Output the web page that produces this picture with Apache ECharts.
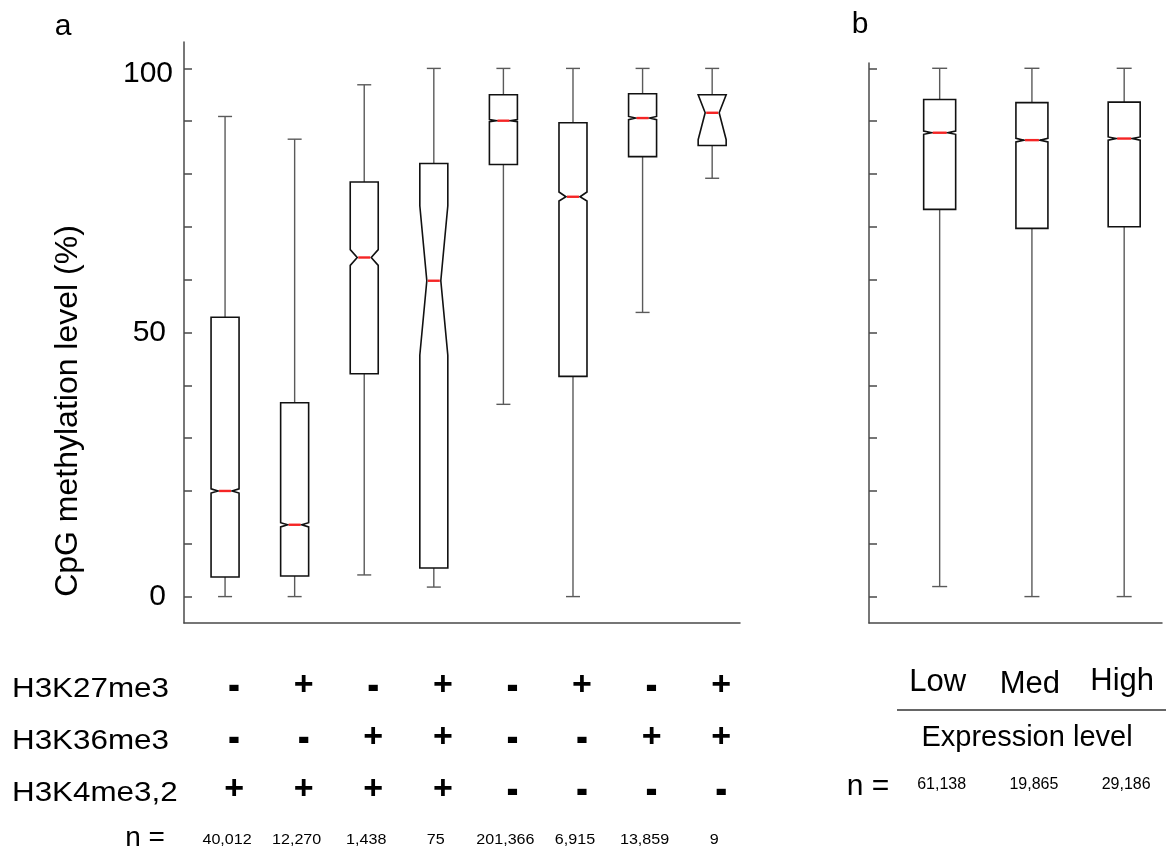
<!DOCTYPE html>
<html>
<head>
    <meta charset="utf-8">
    <title>CpG methylation</title>
    <script src="https://cdn.jsdelivr.net/npm/echarts@6/dist/echarts.min.js"></script>
    <style>body{margin:0;background:#fff}</style>
</head>
<body>
    <div id="main" style="width:1166px;height:852px;"></div>
    <script type="text/javascript">
        // panel a: histone mark combinations
        var marksK27 = ['-', '+', '-', '+', '-', '+', '-', '+'];
        var marksK36 = ['-', '-', '+', '+', '-', '-', '+', '+'];
        var marksK4 = ['+', '+', '+', '+', '-', '-', '-', '-'];
        var countsA = ['40,012', '12,270', '1,438', '75', '201,366', '6,915', '13,859', '9'];
        var lowA = [0, 0, 4.1, 1.8, 36.4, 0, 53.8, 79.2];
        var q1A = [3.7, 3.9, 42.2, 5.4, 81.8, 41.7, 83.3, 85.4];
        var notchLoA = [19.6, 13.2, 62.7, 45.7, 89.9, 74.9, 90.3, 86.5];
        var medA = [20.0, 13.6, 64.2, 59.8, 90.1, 75.7, 90.6, 91.6];
        var notchHiA = [20.4, 14.0, 65.7, 74.0, 90.3, 76.6, 90.9, 95.0];
        var q3A = [52.9, 36.7, 78.5, 82.0, 95.0, 89.7, 95.2, 95.0];
        var highA = [90.9, 86.6, 96.9, 100, 100, 100, 100, 100];

        // panel b: expression level
        var levelsB = ['Low', 'Med', 'High'];
        var countsB = ['61,138', '19,865', '29,186'];
        var lowB = [1.9, 0, 0];
        var q1B = [73.3, 69.7, 70.0];
        var notchLoB = [87.5, 86.05, 86.4];
        var medB = [87.8, 86.4, 86.7];
        var notchHiB = [88.1, 86.75, 87.0];
        var q3B = [94.1, 93.5, 93.6];
        var highB = [100, 100, 100];

        var yTicks = [0, 10, 20, 30, 40, 50, 60, 70, 80, 90, 100];
        var yLabels = [0, 50, 100];

        var FONT = '"Liberation Sans", Arial, sans-serif';

        function rows(lo, q1, nl, md, nh, q3, hi) {
            return lo.map(function (v, i) {
                return [i + 1, lo[i], q1[i], nl[i], md[i], nh[i], q3[i], hi[i]];
            });
        }

        // notched box drawn in pixel space from the axis scales
        function notchedBox(boxW, capW) {
            return function (params, api) {
                var xv = api.value(0);
                function py(k) { return api.coord([xv, api.value(k)])[1]; }
                var cx = api.coord([xv, 0])[0];
                var yLo = py(1), yQ1 = py(2), yNL = py(3), yMd = py(4), yNH = py(5), yQ3 = py(6), yHi = py(7);
                var hw = boxW / 2, nw = boxW / 4, cw = capW / 2;
                var wStyle = { stroke: '#5a5a5a', lineWidth: 1.4 };
                return {
                    type: 'group',
                    children: [
                        { type: 'line', shape: { x1: cx, y1: yQ3, x2: cx, y2: yHi }, style: wStyle },
                        { type: 'line', shape: { x1: cx - cw, y1: yHi, x2: cx + cw, y2: yHi }, style: wStyle },
                        { type: 'line', shape: { x1: cx, y1: yQ1, x2: cx, y2: yLo }, style: wStyle },
                        { type: 'line', shape: { x1: cx - cw, y1: yLo, x2: cx + cw, y2: yLo }, style: wStyle },
                        {
                            type: 'polygon',
                            shape: {
                                points: [
                                    [cx - hw, yQ3], [cx + hw, yQ3], [cx + hw, yNH], [cx + nw, yMd],
                                    [cx + hw, yNL], [cx + hw, yQ1], [cx - hw, yQ1], [cx - hw, yNL],
                                    [cx - nw, yMd], [cx - hw, yNH]
                                ]
                            },
                            style: { fill: '#fff', stroke: '#111', lineWidth: 1.6 }
                        },
                        { type: 'line', shape: { x1: cx - nw + 1, y1: yMd, x2: cx + nw - 1, y2: yMd }, style: { stroke: '#f52525', lineWidth: 2.4 } }
                    ]
                };
            };
        }

        var axisLineStyle = { color: '#4a4a4a', width: 1.5 };

        var myChart = echarts.init(document.getElementById('main'));

        option = {
            animation: false,
            textStyle: { fontFamily: FONT },
            grid: [
                { left: 184, right: 426, top: 42, bottom: 229 },
                { left: 869, right: 4, top: 63, bottom: 229 }
            ],
            xAxis: [
                { gridIndex: 0, type: 'value', min: 0.41, max: 8.4, axisLine: { onZero: false, lineStyle: axisLineStyle }, axisTick: { show: false }, axisLabel: { show: false }, splitLine: { show: false } },
                { gridIndex: 1, type: 'value', min: 0.234, max: 3.41, axisLine: { onZero: false, lineStyle: axisLineStyle }, axisTick: { show: false }, axisLabel: { show: false }, splitLine: { show: false } }
            ],
            yAxis: [
                {
                    gridIndex: 0, type: 'value', min: -5, max: 105,
                    axisLine: { show: true, onZero: false, lineStyle: axisLineStyle },
                    axisTick: { show: true, inside: true, length: 8, customValues: yTicks, lineStyle: { color: '#4a4a4a', width: 1.5 } },
                    axisLabel: {
                        customValues: yLabels, margin: 11, color: '#000', fontSize: 30, fontFamily: FONT,
                        formatter: function (v) { return v === 100 ? '{hi|100}' : '{lo|' + v + '}'; },
                        rich: {
                            hi: { fontSize: 30, fontFamily: FONT, color: '#000', padding: [10, 0, 0, 0] },
                            lo: { fontSize: 30, fontFamily: FONT, color: '#000', padding: [0, 7, 0, 0] }
                        }
                    },
                    splitLine: { show: false }
                },
                {
                    gridIndex: 1, type: 'value', min: -5, max: 101,
                    axisLine: { show: true, onZero: false, lineStyle: axisLineStyle },
                    axisTick: { show: true, inside: true, length: 8, customValues: yTicks, lineStyle: { color: '#4a4a4a', width: 1.5 } },
                    axisLabel: { show: false },
                    splitLine: { show: false }
                }
            ],
            series: [
                {
                    type: 'custom', xAxisIndex: 0, yAxisIndex: 0,
                    renderItem: notchedBox(28, 14),
                    encode: { x: 0, y: [1, 2, 3, 4, 5, 6, 7] },
                    data: rows(lowA, q1A, notchLoA, medA, notchHiA, q3A, highA)
                },
                {
                    type: 'custom', xAxisIndex: 1, yAxisIndex: 1,
                    renderItem: notchedBox(32, 15),
                    encode: { x: 0, y: [1, 2, 3, 4, 5, 6, 7] },
                    data: rows(lowB, q1B, notchLoB, medB, notchHiB, q3B, highB)
                }
            ]
        };
        myChart.setOption(option);

        // annotation table under the panels, x taken from the axes
        var g = [];
        function txt(x, y, s, size, extra) {
            var el = {
                type: 'text', x: x, y: y,
                style: { text: s, fontSize: size, fontFamily: FONT, fill: '#000', textAlign: 'center', textVerticalAlign: 'middle' }
            };
            if (extra) {
                for (var k in extra) {
                    if (k === 'style') { for (var s2 in extra.style) el.style[s2] = extra.style[s2]; }
                    else el[k] = extra[k];
                }
            }
            g.push(el);
        }

        txt(63, 27, 'a', 30);
        txt(860, 25, 'b', 30);
        txt(68, 411, 'CpG methylation level (%)', 32, { rotation: Math.PI / 2 });

        var rowNames = ['H3K27me3', 'H3K36me3', 'H3K4me3,2'];
        var rowY = [689, 741, 793];
        var rowMarks = [marksK27, marksK36, marksK4];
        rowNames.forEach(function (name, r) {
            txt(12, rowY[r], name, 28, { scaleX: 1.12, style: { textAlign: 'left' } });
            rowMarks[r].forEach(function (m, i) {
                var px = myChart.convertToPixel({ xAxisIndex: 0 }, i + 1) + 9;
                if (m === '+') {
                    txt(px, rowY[r] - 3, m, 34, { style: { fontWeight: 'bold' } });
                } else {
                    txt(px, rowY[r] - 2, m, 36, { scaleY: 1.45, style: { fontWeight: 'bold' } });
                }
            });
        });
        txt(145, 838, 'n =', 28);
        countsA.forEach(function (c, i) {
            var px = myChart.convertToPixel({ xAxisIndex: 0 }, i + 1);
            txt(px + 2, 840, c, 14, { scaleX: 1.15 });
        });

        var lvlY = [682, 684, 681];
        levelsB.forEach(function (l, i) {
            var px = myChart.convertToPixel({ xAxisIndex: 1 }, i + 1);
            txt(px - 2, lvlY[i], l, 31);
            txt(px + 2, 785, countsB[i], 16);
        });
        g.push({ type: 'line', shape: { x1: 897, y1: 710, x2: 1166, y2: 710 }, style: { stroke: '#333', lineWidth: 1.5 } });
        txt(1027, 738, 'Expression level', 29);
        txt(868, 787, 'n =', 30);

        myChart.setOption({ graphic: g });
    </script>
</body>
</html>
